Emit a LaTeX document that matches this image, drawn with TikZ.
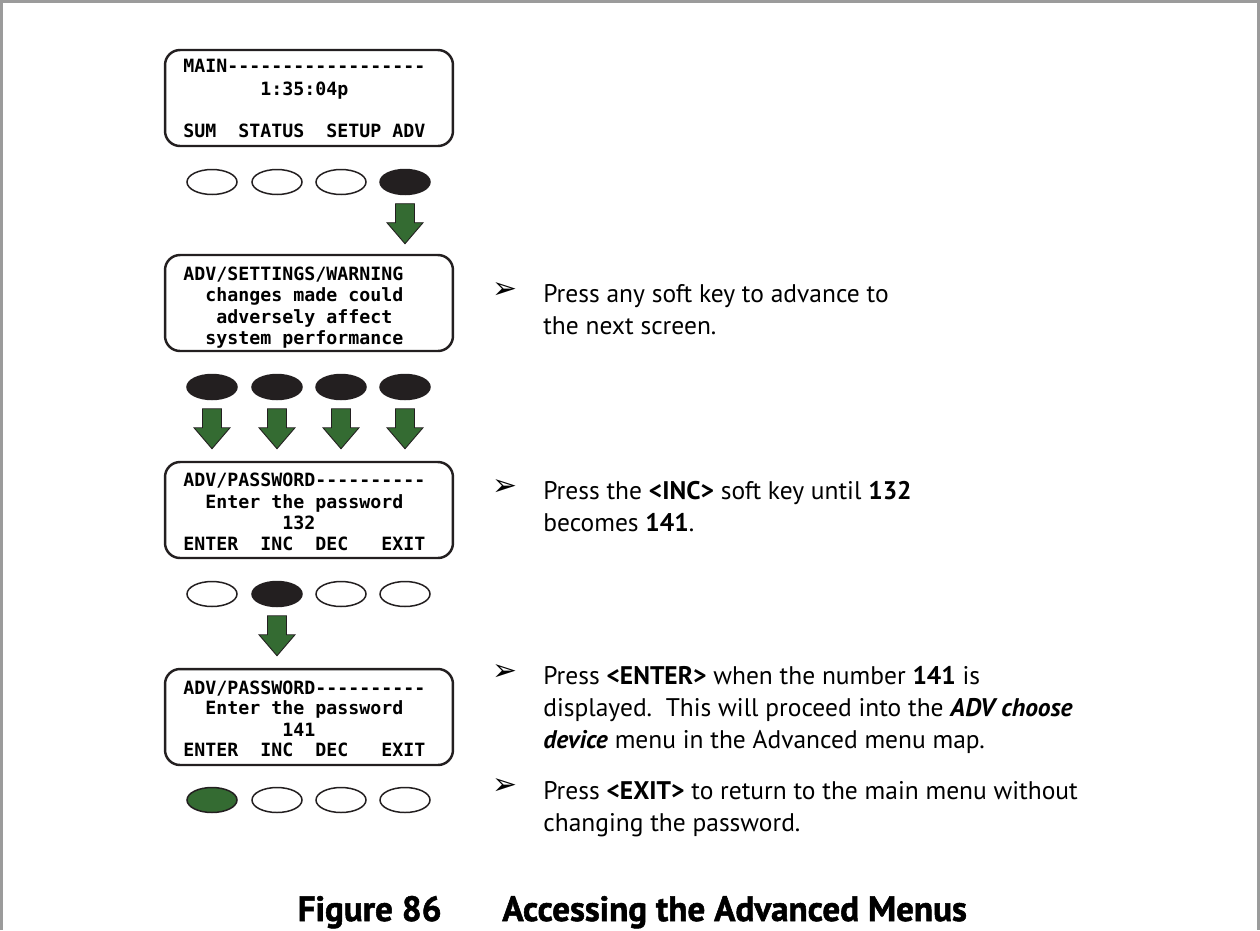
\documentclass[tikz,border=0pt]{standalone}
\usepackage{fontspec}
\setmainfont{PT Sans}
\newfontfamily\lcdfont{DejaVu Sans Mono}
\newfontfamily\symfont{DejaVu Sans}
\newfontfamily\capfont{PT Sans}[BoldFeatures={FakeBold=1.5}]
\usetikzlibrary{shapes.geometric}

\definecolor{keygreen}{HTML}{346B32}
\definecolor{keyblack}{HTML}{231F20}
\definecolor{framegray}{HTML}{9B9B9B}

\tikzset{
  screen/.style={draw=keyblack, line width=1.4pt, rounded corners=0.3cm,
    minimum width=5.76cm, minimum height=1.92cm, inner sep=0pt},
  lcd/.style={anchor=base west, inner sep=0pt,
    font=\lcdfont\bfseries\fontsize{10.4}{12}\selectfont},
  key/.style={ellipse, draw=keyblack, line width=0.85pt,
    minimum width=1cm, minimum height=0.5cm, inner sep=0pt},
  pressed/.style={key, fill=keyblack},
  chosen/.style={key, fill=keygreen},
  arrowbody/.style={draw=keyblack, line width=0.5pt, fill=keygreen},
  softarrow/.pic={
    \draw[arrowbody] (-9.5,0) -- (9.5,0) -- (9.5,19) -- (18,19) -- (0,40)
      -- (-18,19) -- (-9.5,19) -- cycle;},
  bullet/.style={inner sep=0pt, font=\symfont\fontsize{17}{17}\selectfont},
  note/.style={anchor=base west, align=left, inner sep=0pt,
    font=\fontsize{14.5}{18.1}\selectfont},
  caption/.style={inner sep=0pt,
    font=\capfont\bfseries\fontsize{20}{22}\selectfont}
}

\begin{document}
\begin{tikzpicture}[x=0.02cm, y=-0.02cm]
  \useasboundingbox (0,0) rectangle (1260,930);
  \draw[framegray, line width=1.4pt] (1.5,930) -- (1.5,1.5) -- (1258.5,1.5) -- (1258.5,930);

  % main screen
  \node[screen] (scr1) at (309,98) {};
  \node[lcd] (s1a) at (183,72) {MAIN------------------};
  \node[lcd] (s1b) at (183,95) {\ \ \ \ \ \ \ 1:35:04p};
  \node[lcd] (s1c) at (183,137) {SUM\ \ STATUS\ \ SETUP\ ADV};
  \foreach \i/\x/\s in {1/212/key,2/277/key,3/341/key,4/405/pressed}
    \node[\s] (k1\i) at (\x,182) {};
  \path (k14.south) ++(0,8.5) pic {softarrow};

  % warning screen
  \node[screen] (scr2) at (309,303) {};
  \node[lcd] (s2a) at (183,280) {ADV/SETTINGS/WARNING};
  \node[lcd] (s2b) at (183,301) {\ \ changes made could};
  \node[lcd] (s2c) at (183,323) {\ \ \ adversely affect};
  \node[lcd] (s2d) at (183,344) {\ \ system performance};
  \foreach \i/\x in {1/212,2/277,3/341,4/405}{
    \node[pressed] (k2\i) at (\x,387) {};
    \path (k2\i.south) ++(0,8.5) pic {softarrow};
  }

  % password 132
  \node[screen] (scr3) at (309,510) {};
  \node[lcd] (s3a) at (183,486) {ADV/PASSWORD----------};
  \node[lcd] (s3b) at (183,508) {\ \ Enter the password};
  \node[lcd] (s3c) at (183,529) {\ \ \ \ \ \ \ \ \ 132};
  \node[lcd] (s3d) at (183,550) {ENTER\ \ INC\ \ DEC\ \ \ EXIT};
  \foreach \i/\x/\s in {1/212/key,2/277/pressed,3/341/key,4/405/key}
    \node[\s] (k3\i) at (\x,594) {};
  \path (k32.south) ++(0,8.5) pic {softarrow};

  % password 141
  \node[screen] (scr4) at (309,717) {};
  \node[lcd] (s4a) at (183,694) {ADV/PASSWORD----------};
  \node[lcd] (s4b) at (183,714) {\ \ Enter the password};
  \node[lcd] (s4c) at (183,736) {\ \ \ \ \ \ \ \ \ 141};
  \node[lcd] (s4d) at (183,756) {ENTER\ \ INC\ \ DEC\ \ \ EXIT};
  \foreach \i/\x/\s in {1/212/chosen,2/277/key,3/341/key,4/405/key}
    \node[\s] (k4\i) at (\x,800) {};

  % notes (anchored on the last line)
  \node[bullet] (b1) at (505,291) {➢};
  \node[note] (n1) at (543,334) {Press any soft key to advance to\\the next screen.};
  \node[bullet] (b2) at (505,488) {➢};
  \node[note] (n2) at (543,531) {Press the \textbf{<INC>} soft key until \textbf{132}\\becomes \textbf{141}.};
  \node[bullet] (b3) at (505,673) {➢};
  \node[note] (n3) at (543,748) {Press \textbf{<ENTER>} when the number \textbf{141} is\\displayed.\ \ This will proceed into the \textbf{\textit{ADV choose}}\\\textbf{\textit{device}} menu in the Advanced menu map.};
  \node[bullet] (b4) at (505,787) {➢};
  \node[note] (n4) at (543,831) {Press \textbf{<EXIT>} to return to the main menu without\\changing the password.};

  \node[caption, anchor=base east] (fig) at (442,921) {Figure 86};
  \node[caption, anchor=base west] (title) at (502,921) {Accessing the Advanced Menus};
\end{tikzpicture}
\end{document}
